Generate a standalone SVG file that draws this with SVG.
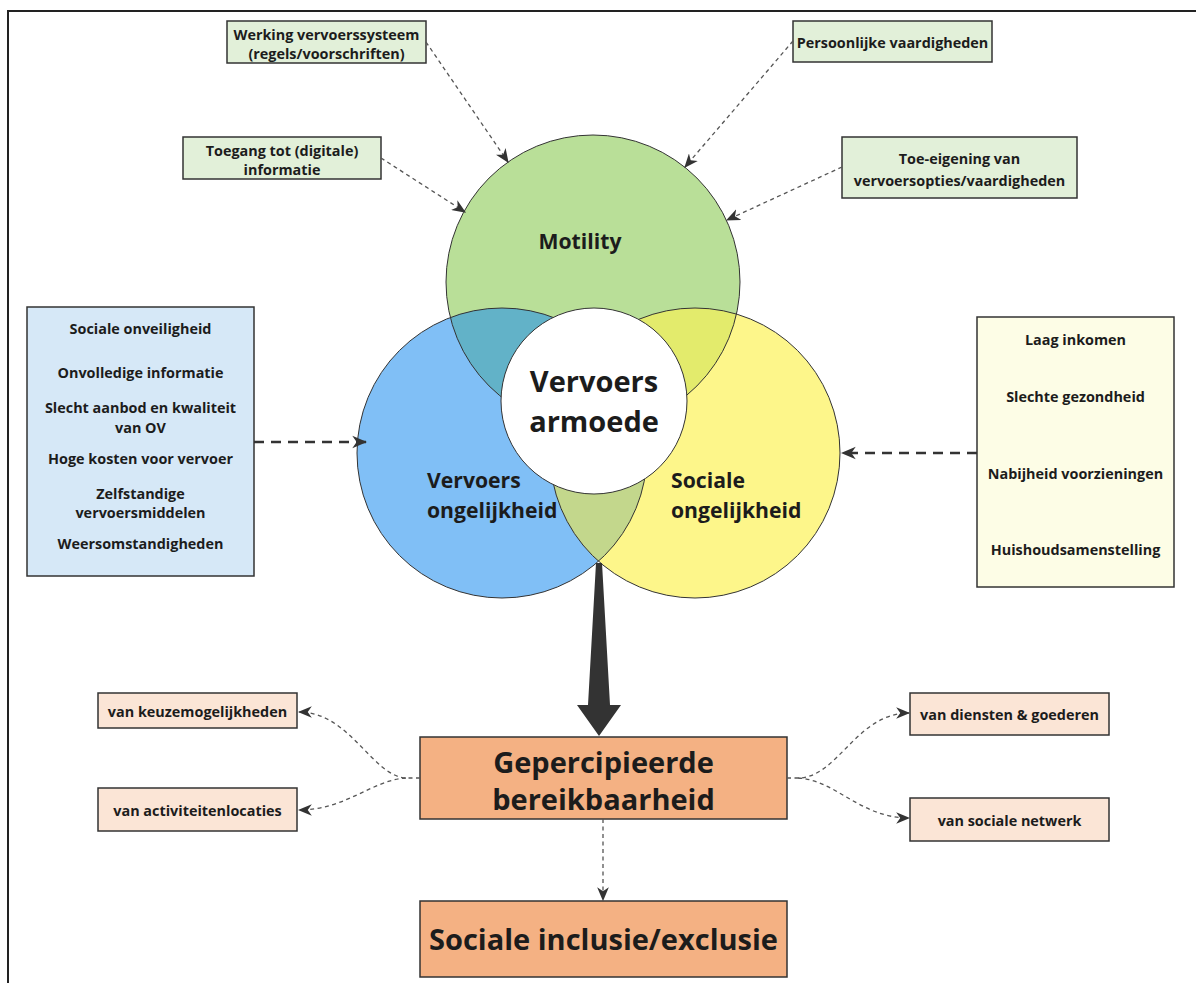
<svg xmlns="http://www.w3.org/2000/svg" width="1196" height="983" viewBox="0 0 1196 983">
<style>
  text { font-family: "Open Sans", "Noto Sans", "Liberation Sans", sans-serif; font-weight: 700; fill: #1c1c1c; }
  .sm { font-size: 14.4px; text-anchor: middle; dominant-baseline: central; }
  .lbl { font-size: 21.2px; }
  .box { stroke: #333; stroke-width: 1.5; }
  .gbox { fill: #e2f0d9; }
  .bbox { fill: #d6e8f7; }
  .ybox { fill: #fdfde6; }
  .pbox { fill: #fbe5d6; }
  .obox { fill: #f4b183; }
  .thin { fill: none; stroke: #555; stroke-width: 1.3; stroke-dasharray: 4 3.5; marker-end: url(#ah); }
  .thick { fill: none; stroke: #333; stroke-width: 2.5; stroke-dasharray: 10 7; marker-end: url(#ahL); }
  .ring { fill: none; stroke: #333; stroke-width: 1; }
</style>
<defs>
  <marker id="ah" viewBox="0 0 12 10" markerWidth="14" markerHeight="12" refX="11" refY="5" orient="auto" markerUnits="userSpaceOnUse">
    <path d="M0,0 L12,5 L0,10 L3.5,5 Z" fill="#333"/>
  </marker>
  <marker id="ahL" viewBox="0 0 12 10" markerWidth="15" markerHeight="14" refX="11" refY="5" orient="auto" markerUnits="userSpaceOnUse">
    <path d="M0,0 L12,5 L0,10 L3.5,5 Z" fill="#333"/>
  </marker>
  <clipPath id="cBlue"><circle cx="502" cy="453" r="145"/></clipPath>
  <clipPath id="cYellow"><circle cx="695" cy="453" r="145"/></clipPath>
</defs>

<rect x="0" y="0" width="1196" height="983" fill="#ffffff"/>
<path d="M8,983 L8,11 L1196,11" fill="none" stroke="#222" stroke-width="2"/>

<g id="venn">
  <circle cx="593" cy="282" r="147" fill="#b9df98"/>
  <circle cx="502" cy="453" r="145" fill="#80bff6"/>
  <circle cx="695" cy="453" r="145" fill="#fdf68a"/>
  <circle cx="593" cy="282" r="147" fill="#62b2c8" clip-path="url(#cBlue)"/>
  <circle cx="593" cy="282" r="147" fill="#e3eb6c" clip-path="url(#cYellow)"/>
  <circle cx="502" cy="453" r="145" fill="#c3d78c" clip-path="url(#cYellow)"/>
  <circle class="ring" cx="593" cy="282" r="147"/>
  <circle class="ring" cx="502" cy="453" r="145"/>
  <circle class="ring" cx="695" cy="453" r="145"/>
</g>
<g id="motility">
  <text class="lbl" x="580" y="249" text-anchor="middle">Motility</text>
</g>
<g id="vervoers-ongelijkheid">
  <text class="lbl" x="427" y="488">Vervoers</text>
  <text class="lbl" x="427" y="518">ongelijkheid</text>
</g>
<g id="sociale-ongelijkheid">
  <text class="lbl" x="671" y="488">Sociale</text>
  <text class="lbl" x="671" y="518">ongelijkheid</text>
</g>
<g id="vervoersarmoede">
  <circle cx="594" cy="401" r="93" fill="#ffffff" stroke="#333" stroke-width="1"/>
  <text x="594" y="392" text-anchor="middle" font-size="29">Vervoers</text>
  <text x="594" y="432" text-anchor="middle" font-size="29">armoede</text>
</g>

<g id="werking">
  <rect class="box gbox" x="227" y="21" width="199" height="42"/>
  <text class="sm" x="326.5" y="34">Werking vervoerssysteem</text>
  <text class="sm" x="326.5" y="53">(regels/voorschriften)</text>
</g>
<g id="toegang">
  <rect class="box gbox" x="183" y="137" width="198" height="42"/>
  <text class="sm" x="282" y="150">Toegang tot (digitale)</text>
  <text class="sm" x="282" y="169">informatie</text>
</g>
<g id="persoonlijk">
  <rect class="box gbox" x="793" y="21" width="199" height="41"/>
  <text class="sm" x="892.5" y="42">Persoonlijke vaardigheden</text>
</g>
<g id="toe-eigening">
  <rect class="box gbox" x="842" y="137" width="235" height="61"/>
  <text class="sm" x="959.5" y="158">Toe-eigening van</text>
  <text class="sm" x="959.5" y="180">vervoersopties/vaardigheden</text>
</g>

<g id="vervoers-factoren">
  <rect class="box bbox" x="27" y="307" width="227" height="269"/>
  <text class="sm" x="140.5" y="328">Sociale onveiligheid</text>
  <text class="sm" x="140.5" y="372">Onvolledige informatie</text>
  <text class="sm" x="140.5" y="407">Slecht aanbod en kwaliteit</text>
  <text class="sm" x="140.5" y="427">van OV</text>
  <text class="sm" x="140.5" y="458">Hoge kosten voor vervoer</text>
  <text class="sm" x="140.5" y="493">Zelfstandige</text>
  <text class="sm" x="140.5" y="512">vervoersmiddelen</text>
  <text class="sm" x="140.5" y="543">Weersomstandigheden</text>
</g>
<g id="sociale-factoren">
  <rect class="box ybox" x="977" y="317" width="197" height="270"/>
  <text class="sm" x="1075.5" y="339">Laag inkomen</text>
  <text class="sm" x="1075.5" y="396">Slechte gezondheid</text>
  <text class="sm" x="1075.5" y="473">Nabijheid voorzieningen</text>
  <text class="sm" x="1075.5" y="549">Huishoudsamenstelling</text>
</g>

<g id="bereikbaarheid">
  <rect class="box obox" x="420" y="737" width="367" height="82"/>
  <text x="603.5" y="773" text-anchor="middle" font-size="29">Gepercipieerde</text>
  <text x="603.5" y="810" text-anchor="middle" font-size="29">bereikbaarheid</text>
</g>
<g id="inclusie">
  <rect class="box obox" x="420" y="901" width="367" height="76"/>
  <text x="603.5" y="950" text-anchor="middle" font-size="29">Sociale inclusie/exclusie</text>
</g>
<g id="keuze">
  <rect class="box pbox" x="98" y="693" width="199" height="35"/>
  <text class="sm" x="197.5" y="711">van keuzemogelijkheden</text>
</g>
<g id="activiteiten">
  <rect class="box pbox" x="98" y="788" width="199" height="43"/>
  <text class="sm" x="197.5" y="810">van activiteitenlocaties</text>
</g>
<g id="diensten">
  <rect class="box pbox" x="910" y="693" width="199" height="42"/>
  <text class="sm" x="1009.5" y="714">van diensten &amp; goederen</text>
</g>
<g id="netwerk">
  <rect class="box pbox" x="910" y="798" width="199" height="43"/>
  <text class="sm" x="1009.5" y="820">van sociale netwerk</text>
</g>

<g id="connectors">
  <path class="thin" d="M426,42 L508,162"/>
  <path class="thin" d="M381,158 L465,212"/>
  <path class="thin" d="M793,41 L685,167"/>
  <path class="thin" d="M842,167 L727,220"/>
  <path class="thick" d="M254,442 L366,442"/>
  <path class="thick" d="M977,453 L842,453"/>
  <path d="M596,563 L602,563 L610,705 L621,705 L599,736 L577,705 L588,705 Z" fill="#333"/>
  <path class="thin" d="M603,819 L603,900"/>
  <path class="thin" d="M420,778 L406,778 C372,776 350,712 299,712"/>
  <path class="thin" d="M406,778 C372,780 346,810 299,810"/>
  <path class="thin" d="M787,778 L798,778 C838,778 856,713 909,713"/>
  <path class="thin" d="M798,778 C836,780 860,818 909,818"/>
</g>
</svg>
